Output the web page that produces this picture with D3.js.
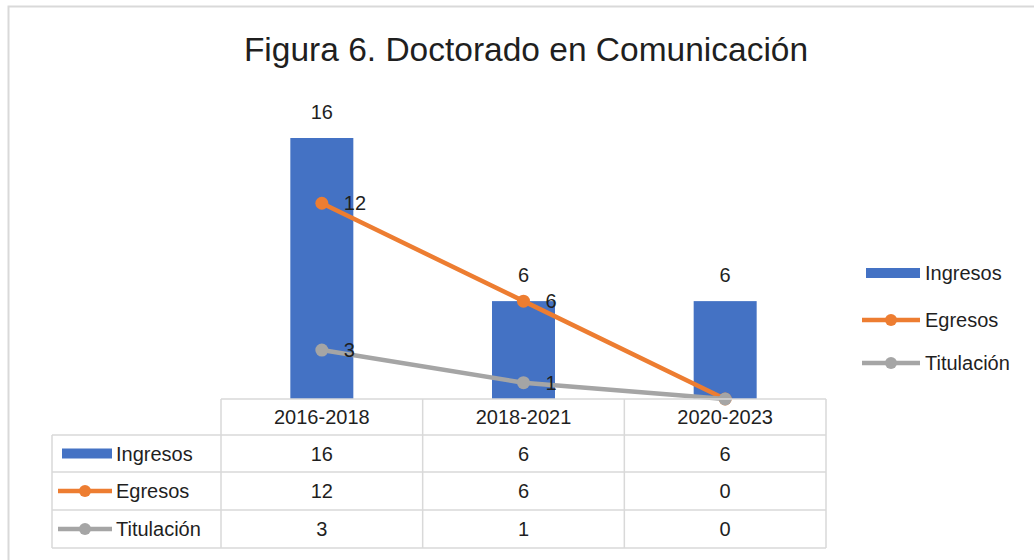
<!DOCTYPE html>
<html><head><meta charset="utf-8">
<script src="https://cdn.jsdelivr.net/npm/d3@7"></script>
<style>
html,body{margin:0;padding:0;background:#fff;}
svg{display:block;}
text{font-family:"Liberation Sans",sans-serif;fill:#1f1f1f;}
</style></head>
<body>
<script>
const categories = ["2016-2018", "2018-2021", "2020-2023"];
const ingresos = [16, 6, 6];
const egresos = [12, 6, 0];
const titulacion = [3, 1, 0];
const seriesNames = ["Ingresos", "Egresos", "Titulación"];
const title = "Figura 6. Doctorado en Comunicación";

const W = 1034, H = 560;
const colors = {Ingresos: "#4472C4", Egresos: "#ED7D31", "Titulación": "#A5A5A5"};
const svg = d3.select("body").append("svg").attr("width", W).attr("height", H);

// chart border
svg.append("path").attr("d", "M8.5,560 V6.5 H1034").attr("fill", "none").attr("stroke", "#d9d9d9").attr("stroke-width", 2);

svg.append("text").attr("x", 526).attr("y", 61).attr("text-anchor", "middle")
  .style("font-size", "33.5px").text(title);

const x = d3.scaleBand().domain(categories).range([221, 826]).padding(0);
const y = d3.scaleLinear().domain([0, 16]).range([399, 138]);
const cx = c => x(c) + x.bandwidth() / 2;
const barW = 63;

// bars
svg.selectAll("rect.bar").data(categories).enter().append("rect")
  .attr("x", c => cx(c) - barW / 2).attr("width", barW)
  .attr("y", (c, i) => y(ingresos[i])).attr("height", (c, i) => y(0) - y(ingresos[i]))
  .attr("fill", colors.Ingresos);

svg.selectAll("text.barlab").data(categories).enter().append("text")
  .attr("x", cx).attr("y", (c, i) => y(ingresos[i]) - 19)
  .attr("text-anchor", "middle").style("font-size", "20px").text((c, i) => ingresos[i]);

// lines
const lineSeries = [["Egresos", egresos], ["Titulación", titulacion]];
const line = d3.line().x(d => cx(d.c)).y(d => y(d.v));
lineSeries.forEach(([name, vals]) => {
  const pts = categories.map((c, i) => ({c, v: vals[i]}));
  svg.append("path").datum(pts).attr("d", line).attr("fill", "none")
    .attr("stroke", colors[name]).attr("stroke-width", 4.5).attr("stroke-linecap", "round");
  svg.selectAll(null).data(pts).enter().append("circle")
    .attr("cx", d => cx(d.c)).attr("cy", d => y(d.v)).attr("r", 6.5).attr("fill", colors[name]);
  svg.selectAll(null).data(pts.filter(d => d.v > 0)).enter().append("text")
    .attr("x", d => cx(d.c) + 22).attr("y", d => y(d.v) + 7)
    .style("font-size", "20px").text(d => d.v);
});

// data table
const rowTop = [399, 435, 472, 510, 548];
const tableLeft = 52;
const grid = svg.append("g").attr("stroke", "#d9d9d9").attr("stroke-width", 1.5).attr("fill", "none");
grid.append("line").attr("x1", 221).attr("x2", 826).attr("y1", rowTop[0]).attr("y2", rowTop[0]);
for (let r = 1; r < rowTop.length; r++) {
  grid.append("line").attr("x1", tableLeft).attr("x2", 826).attr("y1", rowTop[r]).attr("y2", rowTop[r]);
}
grid.append("line").attr("x1", tableLeft).attr("x2", tableLeft).attr("y1", rowTop[1]).attr("y2", rowTop[4]);
[221, 826].concat(categories.slice(1).map(c => x(c))).forEach(xx => {
  grid.append("line").attr("x1", xx).attr("x2", xx).attr("y1", rowTop[0]).attr("y2", rowTop[4]);
});

svg.selectAll("text.head").data(categories).enter().append("text")
  .attr("x", cx).attr("y", (rowTop[0] + rowTop[1]) / 2 + 7).attr("text-anchor", "middle")
  .style("font-size", "20px").text(c => c);

const tableData = [ingresos, egresos, titulacion];
function drawKey(g, name, x0, x1, yy) {
  if (name === "Ingresos") {
    g.append("rect").attr("x", x0 + 4).attr("y", yy - 5).attr("width", x1 - x0 - 4).attr("height", 10).attr("fill", colors[name]);
  } else {
    g.append("line").attr("x1", x0).attr("x2", x1).attr("y1", yy).attr("y2", yy)
      .attr("stroke", colors[name]).attr("stroke-width", 4.5);
    g.append("circle").attr("cx", (x0 + x1) / 2).attr("cy", yy).attr("r", 6).attr("fill", colors[name]);
  }
}
seriesNames.forEach((name, r) => {
  const ym = (rowTop[r + 1] + rowTop[r + 2]) / 2;
  drawKey(svg, name, 58, 112, ym);
  svg.append("text").attr("x", 116).attr("y", ym + 7).style("font-size", "20px").text(name);
  svg.selectAll(null).data(categories).enter().append("text")
    .attr("x", cx).attr("y", ym + 7).attr("text-anchor", "middle")
    .style("font-size", "20px").text((c, i) => tableData[r][i]);
});

// legend
const legY = [273, 320, 363];
seriesNames.forEach((name, i) => {
  drawKey(svg, name, 862, 920, legY[i]);
  svg.append("text").attr("x", 925).attr("y", legY[i] + 7).style("font-size", "20px").text(name);
});
</script>
</body></html>
